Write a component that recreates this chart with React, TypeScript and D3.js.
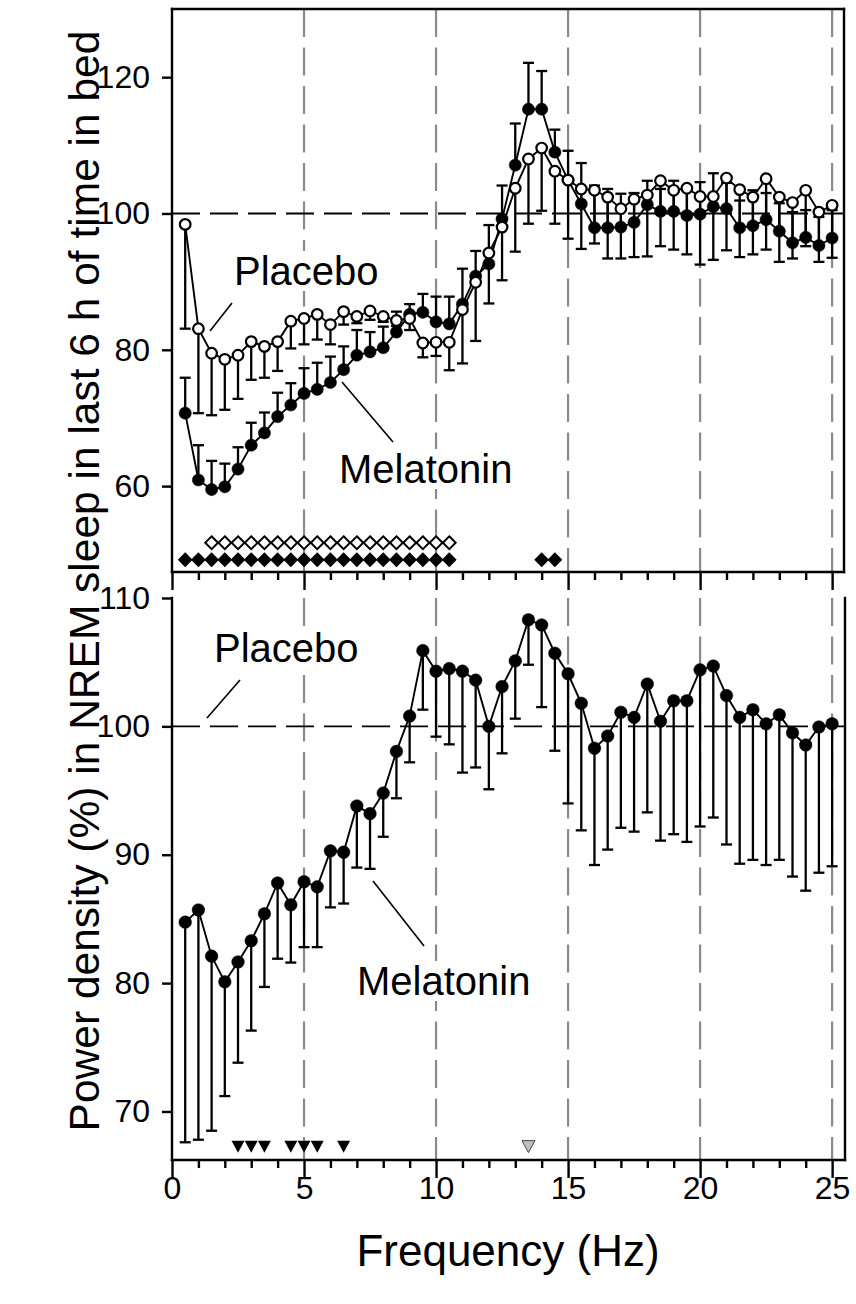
import React, { useRef, useEffect } from "react";
import * as d3 from "d3";

// frequency bins (Hz)
const freqs = [
  0.5, 1, 1.5, 2, 2.5, 3, 3.5, 4, 4.5, 5, 5.5, 6, 6.5, 7, 7.5, 8, 8.5, 9, 9.5, 10,
  10.5, 11, 11.5, 12, 12.5, 13, 13.5, 14, 14.5, 15, 15.5, 16, 16.5, 17, 17.5, 18, 18.5, 19, 19.5, 20,
  20.5, 21, 21.5, 22, 22.5, 23, 23.5, 24, 24.5, 25,
];

// top panel (placebo open, melatonin filled)
const topPlacebo = [
  98.4, 83.1, 79.5, 78.6, 79.2, 81.2, 80.5, 81.2, 84.2, 84.6, 85.2, 83.7, 85.6, 84.9, 85.7, 84.9, 84.3, 84.6, 81.0, 81.1,
  81.1, 85.9, 89.9, 94.2, 98.0, 103.7, 108.0, 109.6, 106.2, 104.9, 103.6, 103.4, 102.4, 100.7, 102.1, 102.7, 104.8, 103.4, 103.7, 102.5,
  102.5, 105.2, 103.5, 102.4, 105.1, 102.4, 101.6, 103.4, 100.2, 101.2,
];
const topPlaceboLow = [
  83.1, 70.7, 70.4, 71.2, 72.8, 75.6, 75.9, 76.9, 80.2, 80.8, 81.5, 80.8, 83.7, 83.9, 84.4, 84.1, 83.5, 82.9, 78.9, 79.1,
  77.0, 78.0, 81.3, 86.8, 90.2, 94.4, 98.5, 100.4, 98.5, 96.3, 94.8, 95.6, 93.4, 93.4, 93.6, 93.7, 95.2, 94.7, 94.0, 92.5,
  93.2, 94.6, 93.6, 94.0, 94.7, 92.9, 93.4, 95.2, 92.9, 93.5,
];
const topMelatonin = [
  70.7, 60.9, 59.5, 59.9, 62.5, 66.0, 67.8, 70.2, 71.9, 73.6, 74.2, 75.2, 77.1, 79.2, 79.7, 80.3, 82.6, 85.2, 85.5, 84.1,
  83.8, 86.7, 90.8, 92.6, 99.2, 107.1, 115.3, 115.3, 109.0, 104.9, 101.4, 97.9, 97.9, 98.0, 98.7, 101.3, 100.3, 100.3, 99.7, 99.9,
  101.0, 100.7, 97.9, 98.2, 99.1, 97.4, 95.7, 96.5, 95.3, 96.4,
];
const topMelatoninHigh = [
  75.9, 66.0, 63.7, 63.3, 65.7, 69.3, 70.8, 73.7, 75.1, 77.3, 78.1, 79.0, 80.5, 82.9, 82.6, 83.4, 85.6, 86.7, 88.2, 87.8,
  87.8, 91.9, 94.5, 98.3, 104.1, 113.2, 122.1, 120.9, 112.3, 109.2, 107.4, 104.1, 103.6, 102.9, 103.0, 104.8, 103.6, 104.8, 103.5, 104.6,
  105.9, 104.5, 101.9, 103.4, 103.0, 101.5, 100.2, 100.5, 99.5, 100.5,
];

// bottom panel: melatonin relative to placebo
const botMelatonin = [
  84.75, 85.7, 82.1, 80.1, 81.65, 83.3, 85.4, 87.8, 86.1, 87.9, 87.5, 90.3, 90.2, 93.8, 93.2, 94.8, 98.05, 100.8, 105.9, 104.3,
  104.5, 104.3, 103.6, 100.0, 103.1, 105.1, 108.3, 107.9, 105.7, 104.1, 101.8, 98.3, 99.25, 101.1, 100.7, 103.3, 100.4, 102.0, 102.0, 104.4,
  104.7, 102.4, 100.7, 101.3, 100.2, 100.9, 99.5, 98.55, 99.95, 100.2,
];
const botMelatoninLow = [
  67.6, 67.8, 68.5, 71.2, 73.8, 76.3, 79.7, 81.9, 81.6, 82.8, 82.8, 85.9, 86.2, 89.0, 88.9, 91.4, 94.4, 97.2, 101.3, 99.2,
  98.6, 96.4, 96.8, 95.1, 97.9, 100.6, 104.8, 101.5, 98.1, 94.0, 91.9, 89.2, 90.4, 92.1, 91.8, 93.3, 91.1, 91.6, 91.0, 92.2,
  92.9, 90.8, 89.3, 89.6, 89.2, 89.6, 88.3, 87.2, 88.6, 89.1,
];

// significance markers
const topPlaceboSig = [1.5, 2, 2.5, 3, 3.5, 4, 4.5, 5, 5.5, 6, 6.5, 7, 7.5, 8, 8.5, 9, 9.5, 10, 10.5];
const topMelatoninSig = [0.5, 1, 1.5, 2, 2.5, 3, 3.5, 4, 4.5, 5, 5.5, 6, 6.5, 7, 7.5, 8, 8.5, 9, 9.5, 10, 10.5, 14, 14.5];
const botSigBlack = [2.5, 3, 3.5, 4.5, 5, 5.5, 6.5];
const botSigGrey = [13.5];

const gridFreqs = [5, 10, 15, 20, 25];
const majorTicks = [0, 5, 10, 15, 20, 25];
const minorTicks = [1, 2, 3, 4, 6, 7, 8, 9, 11, 12, 13, 14, 16, 17, 18, 19, 21, 22, 23, 24];
const topYTicks = [60, 80, 100, 120];
const botYTicks = [70, 80, 90, 100, 110];

const FONT = "'Liberation Sans', Arial, Helvetica, sans-serif";

function App() {
  const svgRef = useRef(null);

  useEffect(() => {
    const left = 172, right = 844;
    const topY0 = 9, topY1 = 572;
    const botY0 = 598, botY1 = 1160;

    const x = d3.scaleLinear().domain([0, 25.45]).range([left, right]);
    const yTop = d3.scaleLinear().domain([47.4, 130]).range([topY1, topY0]);
    const yBot = d3.scaleLinear().domain([66.22, 110]).range([botY1, botY0]);

    const svg = d3.select(svgRef.current);
    svg.selectAll("*").remove();
    svg.append("rect").attr("width", 856).attr("height", 1304).attr("fill", "#fff");

    // vertical grey dashed grid
    [[topY0, topY1], [botY0, botY1]].forEach(([a, b]) => {
      svg.append("g")
        .selectAll("line")
        .data(gridFreqs)
        .join("line")
          .attr("x1", d => x(d)).attr("x2", d => x(d))
          .attr("y1", a).attr("y2", b)
          .attr("stroke", "#8a8a8a")
          .attr("stroke-width", 2.2)
          .attr("stroke-dasharray", "28 10.5");
    });

    // 100 % reference lines
    [yTop, yBot].forEach(y => {
      svg.append("line")
        .attr("x1", left).attr("x2", right)
        .attr("y1", y(100)).attr("y2", y(100))
        .attr("stroke", "#000")
        .attr("stroke-width", 1.8)
        .attr("stroke-dasharray", "28 10");
    });

    // annotation labels with white boxes (they mask the grid)
    const addLabel = (txt, tx, ty) => {
      const g = svg.append("g");
      const t = g.append("text")
        .attr("x", tx).attr("y", ty)
        .attr("font-family", FONT)
        .attr("font-size", 40)
        .attr("fill", "#000")
        .text(txt);
      const b = t.node().getBBox();
      g.insert("rect", "text")
        .attr("x", b.x - 3).attr("y", b.y + 2)
        .attr("width", b.width + 6).attr("height", b.height - 4)
        .attr("fill", "#fff");
    };
    const leader = (x1, y1, x2, y2) => {
      svg.append("line")
        .attr("x1", x1).attr("y1", y1).attr("x2", x2).attr("y2", y2)
        .attr("stroke", "#000").attr("stroke-width", 1.6);
    };

    addLabel("Placebo", 234, 285);
    leader(232, 303, 210, 331);
    addLabel("Melatonin", 339, 483);
    leader(342, 382, 393, 442);
    addLabel("Placebo", 214, 662);
    leader(240, 680, 207, 718);
    addLabel("Melatonin", 357, 995);
    leader(373, 881, 424, 946);

    const capW = 5.5;
    const errorBars = (vals, ends, y) => {
      const g = svg.append("g").attr("stroke", "#000").attr("stroke-width", 2.3);
      g.selectAll("line.v")
        .data(freqs)
        .join("line")
          .attr("class", "v")
          .attr("x1", d => x(d)).attr("x2", d => x(d))
          .attr("y1", (d, i) => y(vals[i]))
          .attr("y2", (d, i) => y(ends[i]));
      g.selectAll("line.c")
        .data(freqs)
        .join("line")
          .attr("class", "c")
          .attr("x1", d => x(d) - capW).attr("x2", d => x(d) + capW)
          .attr("y1", (d, i) => y(ends[i]))
          .attr("y2", (d, i) => y(ends[i]));
    };

    const series = (vals, y) => {
      const line = d3.line()
        .x((d, i) => x(freqs[i]))
        .y(d => y(d));
      svg.append("path")
        .attr("d", line(vals))
        .attr("fill", "none")
        .attr("stroke", "#000")
        .attr("stroke-width", 1.9);
    };

    const dots = (vals, y, r, open) => {
      svg.append("g")
        .selectAll("circle")
        .data(vals)
        .join("circle")
          .attr("cx", (d, i) => x(freqs[i]))
          .attr("cy", d => y(d))
          .attr("r", r)
          .attr("fill", open ? "#fff" : "#000")
          .attr("stroke", "#000")
          .attr("stroke-width", open ? 2.2 : 0.5);
    };

    // top panel data
    errorBars(topPlacebo, topPlaceboLow, yTop);
    errorBars(topMelatonin, topMelatoninHigh, yTop);
    series(topMelatonin, yTop);
    series(topPlacebo, yTop);
    dots(topMelatonin, yTop, 6.1, false);
    dots(topPlacebo, yTop, 5.3, true);

    // bottom panel data
    errorBars(botMelatonin, botMelatoninLow, yBot);
    series(botMelatonin, yBot);
    dots(botMelatonin, yBot, 6.3, false);

    // significance symbols
    const diamond = h => `M0,${-h}L${h},0L0,${h}L${-h},0Z`;
    svg.append("g")
      .selectAll("path")
      .data(topPlaceboSig)
      .join("path")
        .attr("d", diamond(6.4))
        .attr("transform", d => `translate(${x(d)},${yTop(51.7)})`)
        .attr("fill", "#fff").attr("stroke", "#000").attr("stroke-width", 2);
    svg.append("g")
      .selectAll("path")
      .data(topMelatoninSig)
      .join("path")
        .attr("d", diamond(7.4))
        .attr("transform", d => `translate(${x(d)},${yTop(49.2)})`)
        .attr("fill", "#000");

    const tri = "M-6.5,-5.5L6.5,-5.5L0,6.5Z";
    svg.append("g")
      .selectAll("path")
      .data(botSigBlack)
      .join("path")
        .attr("d", tri)
        .attr("transform", d => `translate(${x(d)},${yBot(67.3)})`)
        .attr("fill", "#000");
    svg.append("g")
      .selectAll("path")
      .data(botSigGrey)
      .join("path")
        .attr("d", tri)
        .attr("transform", d => `translate(${x(d)},${yBot(67.3)})`)
        .attr("fill", "#c0c0c0").attr("stroke", "#444").attr("stroke-width", 1);

    // axes
    const axisStyle = g => {
      g.select(".domain").remove();
      g.selectAll("line").attr("stroke", "#000").attr("stroke-width", 2.4);
      g.selectAll("text").attr("font-family", FONT).attr("font-size", 32).attr("fill", "#000");
    };

    svg.append("g")
      .attr("transform", `translate(${left},0)`)
      .call(d3.axisLeft(yTop).tickValues(topYTicks).tickSize(10).tickPadding(12).tickFormat(d3.format("d")))
      .call(axisStyle);
    svg.append("g")
      .attr("transform", `translate(${left},0)`)
      .call(d3.axisLeft(yBot).tickValues(botYTicks).tickSize(10).tickPadding(12).tickFormat(d3.format("d")))
      .call(axisStyle);

    [topY1, botY1].forEach((yy, k) => {
      svg.append("g")
        .attr("transform", `translate(0,${yy})`)
        .call(d3.axisBottom(x).tickValues(minorTicks).tickSize(8).tickFormat(() => ""))
        .call(axisStyle);
      svg.append("g")
        .attr("transform", `translate(0,${yy})`)
        .call(d3.axisBottom(x).tickValues(majorTicks).tickSize(18).tickPadding(-2)
          .tickFormat(k === 1 ? d3.format("d") : () => ""))
        .call(axisStyle);
    });

    // frame lines
    const frame = [
      [left, topY0, right, topY0],
      [left, topY0, left, topY1],
      [right, topY0, right, topY1],
      [left, topY1, right, topY1],
      [left, botY0, left, botY1],
      [right + 1, botY0, right + 1, botY1],
      [left, botY1, right + 1, botY1],
    ];
    svg.append("g")
      .selectAll("line")
      .data(frame)
      .join("line")
        .attr("x1", d => d[0]).attr("y1", d => d[1])
        .attr("x2", d => d[2]).attr("y2", d => d[3])
        .attr("stroke", "#000")
        .attr("stroke-width", 2.4)
        .attr("stroke-linecap", "square");

    // axis titles
    svg.append("text")
      .attr("x", (left + right) / 2)
      .attr("y", 1266)
      .attr("text-anchor", "middle")
      .attr("font-family", FONT)
      .attr("font-size", 44)
      .text("Frequency (Hz)");

    svg.append("text")
      .attr("transform", "translate(99,581) rotate(-90)")
      .attr("text-anchor", "middle")
      .attr("font-family", FONT)
      .attr("font-size", 42.5)
      .text("Power density (%) in NREM sleep in last 6 h of time in bed");
  }, []);

  return (
    <svg
      ref={svgRef}
      width={856}
      height={1304}
      style={{ position: "absolute", left: 0, top: 0, display: "block" }}
    ></svg>
  );
}

export default App;
